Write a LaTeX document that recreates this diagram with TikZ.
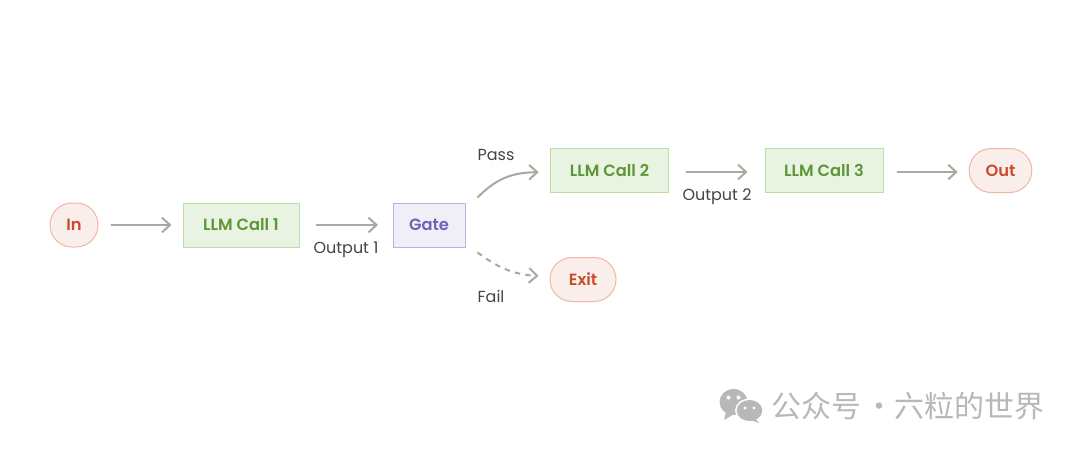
\documentclass[tikz,border=0pt]{standalone}
\usepackage{fontspec}
\setmainfont{Poppins}
\newfontfamily\semi{Poppins SemiBold}
\newfontfamily\cjk{Noto Sans CJK SC}
\usetikzlibrary{arrows.meta}
\definecolor{arrowc}{HTML}{A9A99F}
\definecolor{labelc}{HTML}{454545}
\definecolor{gfill}{HTML}{E8F3E1}
\definecolor{gline}{HTML}{BBDDA8}
\definecolor{gtext}{HTML}{5C9638}
\definecolor{pfill}{HTML}{F0EFF8}
\definecolor{pline}{HTML}{B7B2E4}
\definecolor{ptext}{HTML}{6C63B6}
\definecolor{rfill}{HTML}{FAEEEA}
\definecolor{rline}{HTML}{F3B6A4}
\definecolor{rtext}{HTML}{C84B2B}
\definecolor{wm}{HTML}{B8B8B8}
\tikzset{
  base/.style={draw, line width=0.75pt, inner sep=0pt, font=\semi\fontsize{12.2}{15}\selectfont, anchor=center},
  llm/.style={base, fill=gfill, draw=gline, text=gtext},
  gatebox/.style={base, fill=pfill, draw=pline, text=ptext},
  term/.style={base, fill=rfill, draw=rline, text=rtext, rounded corners=16.4pt},
  conn/.style={draw=arrowc, line width=1.5pt, -{Straight Barb[length=6pt,width=11pt,line width=1.5pt]}},
  lbl/.style={text=labelc, inner sep=0pt, font=\fontsize{12}{14}\selectfont, anchor=center},
}
\begin{document}
\begin{tikzpicture}[x=0.75pt,y=-0.75pt]
\useasboundingbox (0,0) rectangle (1080,450);
\fill[white] (0,0) rectangle (1080,450);
\node[term, minimum width=36pt, minimum height=33pt] (in) at (74,225) {In};
\node[llm, minimum width=87pt, minimum height=33pt] (c1) at (241,225) {LLM Call 1};
\node[gatebox, minimum width=54pt, minimum height=33pt] (gate) at (429,225) {Gate};
\node[llm, minimum width=89pt, minimum height=32.5pt] (c2) at (609.5,170.5) {LLM Call 2};
\node[llm, minimum width=88.5pt, minimum height=33pt] (c3) at (824,170.5) {LLM Call 3};
\node[term, minimum width=47pt, minimum height=33pt] (out) at (1000.5,170.5) {Out};
\node[term, minimum width=49.5pt, minimum height=33pt] (exit) at (583,279.5) {Exit};
\coordinate (o1) at (378,225);
\draw[conn, shorten <=12*0.75pt, shorten >=11*0.75pt] (in.east) -- (c1.west);
\draw[conn, shorten <=16*0.75pt] (c1.east) -- (o1);
\draw[conn, shorten >=11*0.75pt] ([shift={(12,-5)}]gate.north east) .. controls ([shift={(30,-23)}]gate.north east) and ([shift={(45,-30)}]gate.north east) .. ([yshift=-1.5*0.75pt]c2.west);
\draw[conn, dash pattern=on 4pt off 4pt, shorten >=11*0.75pt] ([shift={(12,5)}]gate.south east) .. controls ([shift={(30,18)}]gate.south east) and ([shift={(45,27)}]gate.south east) .. ([yshift=3*0.75pt]exit.west);
\draw[conn, shorten <=17*0.75pt, shorten >=17*0.75pt] ([yshift=-1.5*0.75pt]c2.east) -- ([yshift=-1.5*0.75pt]c3.west);
\draw[conn, shorten <=13*0.75pt, shorten >=11*0.75pt] ([yshift=-1.5*0.75pt]c3.east) -- ([yshift=-1.5*0.75pt]out.west);

\node[lbl] (l1) at (346,249.5) {Output 1};
\node[lbl] (l2) at (717,196.5) {Output 2};
\node[lbl] (lp) at (496,155) {Pass};
\node[lbl] (lf) at (491,296.5) {Fail};

% watermark
\fill[wm] (733.5,402) ellipse (14 and 13);
\fill[wm] (726,412) -- (724,420) -- (734,414) -- cycle;
\fill[white] (749.5,410.5) ellipse (14.5 and 12);
\fill[wm] (749.5,410.5) ellipse (12.8 and 10.5);
\fill[wm] (755,418) -- (759,423) -- (748,419) -- cycle;
\fill[white] (728.5,397.5) circle (2);
\fill[white] (738.5,397.5) circle (2);
\fill[white] (745,408) circle (1.6);
\fill[white] (754,408) circle (1.6);
\node[text=wm, inner sep=0pt, anchor=west, font=\cjk\fontsize{22.5}{26}\selectfont] (wmt) at (771,406) {公众号\hspace{-2.25pt} · \hspace{-5.25pt}六粒的世界};
\end{tikzpicture}
\end{document}
